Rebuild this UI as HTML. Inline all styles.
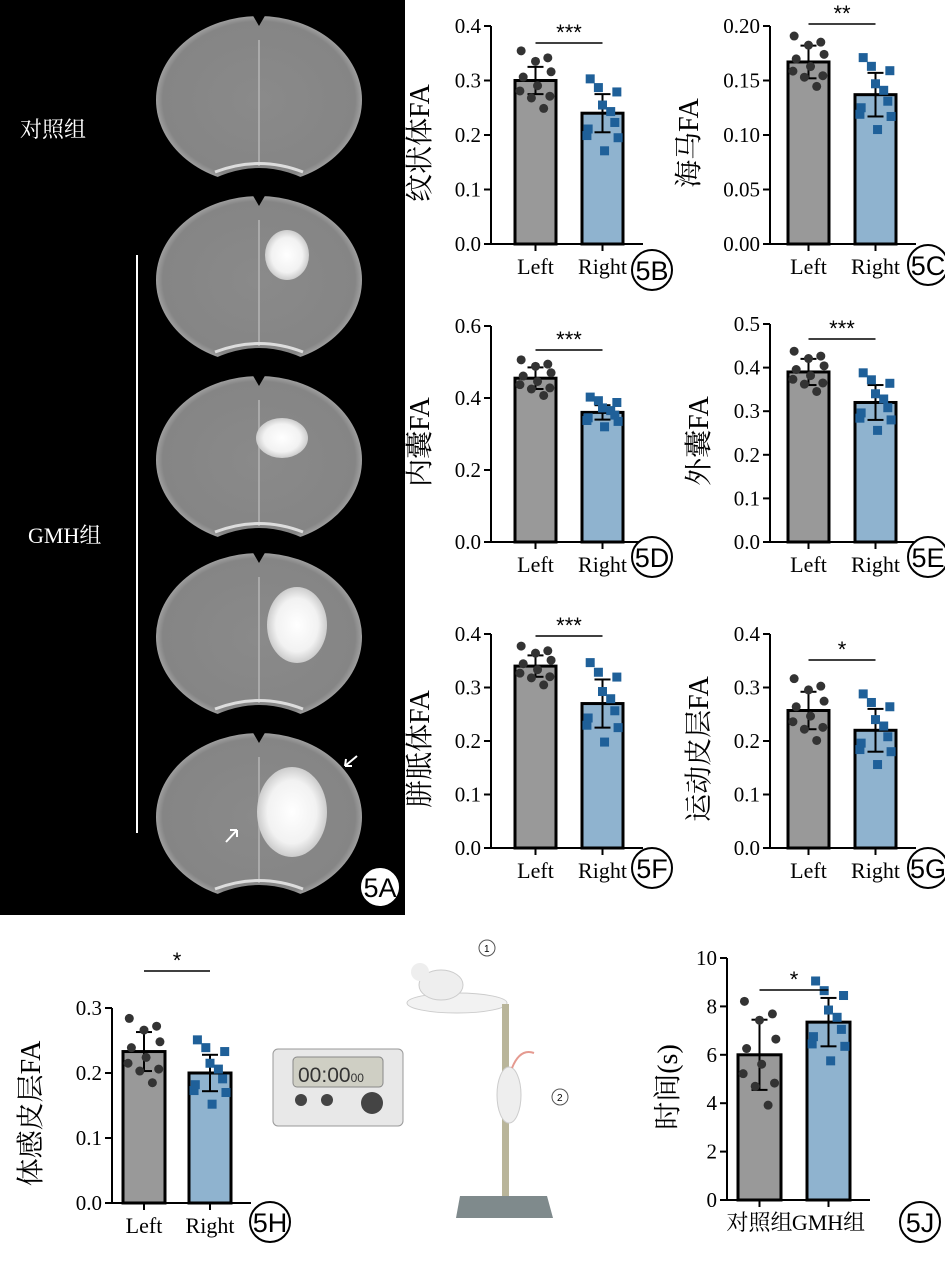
<!DOCTYPE html>
<html><head><meta charset="utf-8"><style>
html,body{margin:0;padding:0;background:#fff;width:945px;height:1263px;overflow:hidden}
svg{display:block}
</style></head><body>
<svg id="s" width="945" height="1263" xmlns="http://www.w3.org/2000/svg" font-family="'Liberation Serif','Noto Serif CJK SC',serif">
<defs>
<radialGradient id="bg" cx="50%" cy="50%" r="55%"><stop offset="0" stop-color="#8a8a8a"/><stop offset="0.85" stop-color="#858585"/><stop offset="0.93" stop-color="#a8a8a8"/><stop offset="1" stop-color="#3a3a3a"/></radialGradient>
<radialGradient id="les" cx="50%" cy="50%" r="50%"><stop offset="0" stop-color="#fff"/><stop offset="0.7" stop-color="#f2f2f2"/><stop offset="1" stop-color="#ccc"/></radialGradient>
</defs>
<rect x="0" y="0" width="405" height="915" fill="#000"/>
<g id="brains"></g>
<line x1="137" y1="255" x2="137" y2="833" stroke="#fff" stroke-width="2"/>
<text x="20" y="137" fill="#fff" font-size="22" font-family="'Liberation Serif','Noto Serif CJK SC',serif">对照组</text>
<text x="28" y="543" fill="#fff" font-size="22" font-family="'Liberation Serif','Noto Serif CJK SC',serif">GMH组</text>
<path d="M357 756 L345 766 M345 766 L352 766 M345 766 L346 759" stroke="#fff" stroke-width="2" fill="none"/>
<path d="M226 842 L237 830 M237 830 L230 830 M237 830 L237 837" stroke="#fff" stroke-width="2" fill="none"/>
<g id="charts"></g>
<!-- 5I illustration -->
<rect x="273" y="1049" width="130" height="77" rx="5" fill="#e8e8e8" stroke="#999"/>
<rect x="293" y="1057" width="90" height="30" rx="4" fill="#cfcfc4" stroke="#888"/>
<text x="298" y="1082" font-family="'Liberation Sans',sans-serif" font-size="21" fill="#333">00:00<tspan font-size="12">00</tspan></text>
<circle cx="301" cy="1100" r="6" fill="#444"/><circle cx="327" cy="1100" r="6" fill="#444"/><circle cx="372" cy="1103" r="11" fill="#444"/>
<ellipse cx="457" cy="1003" rx="50" ry="10" fill="#f2f2f2" stroke="#ccc"/>
<ellipse cx="441" cy="985" rx="22" ry="15" fill="#eee" stroke="#ccc"/>
<circle cx="420" cy="972" r="9" fill="#eee"/>
<circle cx="487" cy="948" r="8" fill="none" stroke="#555"/><text x="484" y="952" font-size="10" font-family="'Liberation Sans',sans-serif">1</text>
<circle cx="560" cy="1097" r="8" fill="none" stroke="#555"/><text x="557" y="1101" font-size="10" font-family="'Liberation Sans',sans-serif">2</text>
<rect x="502" y="1004" width="7" height="202" fill="#b9b59a"/>
<ellipse cx="509" cy="1095" rx="12" ry="28" fill="#eee" stroke="#ccc"/>
<path d="M512 1068 q8 -20 22 -15" stroke="#e59a90" stroke-width="2" fill="none"/>
<polygon points="460,1196 547,1196 553,1218 456,1218" fill="#7f8a8c"/>
</svg>
<script>
const NS="http://www.w3.org/2000/svg";
function el(t,a,p,txt){const e=document.createElementNS(NS,t);for(const k in a)e.setAttribute(k,a[k]);if(txt!==undefined)e.textContent=txt;(p||document.getElementById('charts')).appendChild(e);return e;}
const B=document.getElementById('brains');
const cys=[100,280,460,637,817];
cys.forEach((cy,i)=>{
 el('ellipse',{cx:259,cy:cy,rx:103,ry:84,fill:'url(#bg)'},B);
 el('path',{d:`M200 ${cy+86} Q259 ${cy+50} 318 ${cy+86} Z`,fill:'#000'},B);
 el('path',{d:`M252 ${cy-86} L259 ${cy-74} L266 ${cy-86} Z`,fill:'#000'},B);
 el('line',{x1:259,y1:cy-60,x2:259,y2:cy+66,stroke:'#aaa','stroke-width':2},B);
 el('path',{d:`M215 ${cy+72} Q259 ${cy+55} 303 ${cy+72}`,stroke:'#ddd','stroke-width':3,fill:'none'},B);
 if(i==1)el('ellipse',{cx:287,cy:cy-25,rx:22,ry:25,fill:'url(#les)'},B);
 if(i==2)el('ellipse',{cx:282,cy:cy-22,rx:26,ry:20,fill:'url(#les)'},B);
 if(i==3)el('ellipse',{cx:297,cy:cy-12,rx:30,ry:38,fill:'url(#les)'},B);
 if(i==4)el('ellipse',{cx:292,cy:cy-5,rx:35,ry:45,fill:'url(#les)'},B);
});
el('circle',{cx:380,cy:887,r:20,fill:'#fff',stroke:'#000','stroke-width':2},B);
el('text',{x:380,y:897,'text-anchor':'middle','font-size':27,'font-family':"'Liberation Sans',sans-serif"},B,'5A');

function rnd(seed){let s=seed;return()=>{s=(s*9301+49297)%233280;return s/233280;}}
function chart(o){
 const {ax,top,zero,max,step,dec,title,v1,v2,sd1,sd2,stars,lab,tag,bw,gap,pts1,pts2}=o;
 const sc=v=>zero-(v/max)*(zero-top);
 const x1=ax+(o.off||24), x2=x1+bw+gap;
 el('line',{x1:ax,y1:top,x2:ax,y2:zero+1,stroke:'#000','stroke-width':2});
 el('line',{x1:ax-1,y1:zero,x2:x2+bw+20,y2:zero,stroke:'#000','stroke-width':2});
 for(let v=0;v<=max+1e-9;v+=step){const y=sc(v);el('line',{x1:ax-7,y1:y,x2:ax,y2:y,stroke:'#000','stroke-width':2});
  el('text',{x:ax-10,y:y+7,'text-anchor':'end','font-size':21},null,v.toFixed(dec));}
 el('text',{transform:`translate(${ax-o.td},${(top+zero)/2+8}) rotate(-90)`,'text-anchor':'middle','font-size':28},null,title);
 el('rect',{x:x1,y:sc(v1),width:bw,height:zero-sc(v1),fill:'#999',stroke:'#000','stroke-width':3});
 el('rect',{x:x2,y:sc(v2),width:bw,height:zero-sc(v2),fill:'#8fb3cf',stroke:'#000','stroke-width':3});
 [[x1,v1,sd1],[x2,v2,sd2]].forEach(([x,v,sd])=>{const c=x+bw/2;
  el('line',{x1:c,y1:sc(v),x2:c,y2:sc(v+sd),stroke:'#000','stroke-width':2});
  el('line',{x1:c-8,y1:sc(v+sd),x2:c+8,y2:sc(v+sd),stroke:'#000','stroke-width':2});
  el('line',{x1:c,y1:sc(v),x2:c,y2:sc(v-sd),stroke:'#000','stroke-width':2});
  el('line',{x1:c-8,y1:sc(v-sd),x2:c+8,y2:sc(v-sd),stroke:'#000','stroke-width':2});
  el('line',{x1:c,y1:zero,x2:c,y2:zero+7,stroke:'#000','stroke-width':2});});
 const r=rnd(Math.round(v1*1000+v2*77));
 const jx=[-.35,0,.3,-.3,.35,-.1,.2,-.38,.38,.05];
 pts1.forEach((v,i)=>{el('circle',{cx:x1+bw/2+jx[i]*bw,cy:sc(v),r:4.5,fill:'#333'});});
 pts2.forEach((v,i)=>{const cx=x2+bw/2+jx[(i+3)%10]*bw;el('rect',{x:cx-4.5,y:sc(v)-4.5,width:9,height:9,fill:'#1f6099'});});
 const sy=o.sy;
 el('line',{x1:x1+bw/2,y1:sy,x2:x2+bw/2,y2:sy,stroke:'#000','stroke-width':1.5});
 el('text',{x:(x1+x2+bw)/2,y:sy-3,'text-anchor':'middle','font-size':22,'font-family':"'Liberation Sans',sans-serif"},null,stars);
 el('text',{x:x1+bw/2,y:zero+30,'text-anchor':'middle','font-size':22},null,lab[0]);
 el('text',{x:x2+bw/2,y:zero+30,'text-anchor':'middle','font-size':22},null,lab[1]);
 el('circle',{cx:tag[0],cy:tag[1],r:20,fill:'#fff',stroke:'#000','stroke-width':2});
 el('text',{x:tag[0],y:tag[1]+10,'text-anchor':'middle','font-size':27,'font-family':"'Liberation Sans',sans-serif"},null,tag[2]);
}
const LR=['Left','Right'];
const spread=(m,s)=>[m+s*1.7,m+s*1.1,m+s*1.3,m+s*.2,m-s*.9,m-s*1.0,m-s*1.6,m-s*.6,m+s*.5,m-s*.3];
chart({ax:491,top:26,zero:244,max:0.4,step:0.1,dec:1,title:'纹状体FA',v1:.30,v2:.24,sd1:.025,sd2:.035,stars:'***',lab:LR,tag:[652,270,'5B'],bw:41,gap:26,sy:43,td:62,pts1:spread(.30,.032),pts2:spread(.235,.04),off:24});
chart({ax:770,top:26,zero:244,max:0.20,step:0.05,dec:2,title:'海马FA',v1:.167,v2:.137,sd1:.015,sd2:.02,stars:'**',lab:LR,tag:[928,265,'5C'],bw:41,gap:26,sy:24,td:72,pts1:spread(.167,.014),pts2:spread(.137,.02),off:18});
chart({ax:491,top:326,zero:542,max:0.6,step:0.2,dec:1,title:'内囊FA',v1:.455,v2:.36,sd1:.03,sd2:.02,stars:'***',lab:LR,tag:[652,557,'5D'],bw:41,gap:26,sy:350,td:62,pts1:spread(.455,.03),pts2:spread(.36,.025),off:24});
chart({ax:770,top:324,zero:542,max:0.5,step:0.1,dec:1,title:'外囊FA',v1:.39,v2:.32,sd1:.03,sd2:.04,stars:'***',lab:LR,tag:[928,557,'5E'],bw:41,gap:26,sy:339,td:62,pts1:spread(.39,.028),pts2:spread(.32,.04),off:18});
chart({ax:491,top:634,zero:848,max:0.4,step:0.1,dec:1,title:'胼胝体FA',v1:.34,v2:.27,sd1:.02,sd2:.045,stars:'***',lab:LR,tag:[652,868,'5F'],bw:41,gap:26,sy:636,td:62,pts1:spread(.34,.022),pts2:spread(.27,.045),off:24});
chart({ax:770,top:634,zero:848,max:0.4,step:0.1,dec:1,title:'运动皮层FA',v1:.257,v2:.22,sd1:.035,sd2:.04,stars:'*',lab:LR,tag:[928,868,'5G'],bw:41,gap:26,sy:660,td:62,pts1:spread(.257,.035),pts2:spread(.22,.04),off:18});
chart({ax:112,top:1008,zero:1203,max:0.3,step:0.1,dec:1,title:'体感皮层FA',v1:.233,v2:.20,sd1:.03,sd2:.028,stars:'*',lab:LR,tag:[270,1222,'5H'],bw:42,gap:24,sy:971,td:72,pts1:spread(.233,.03),pts2:spread(.20,.03),off:11});
chart({ax:727,top:958,zero:1200,max:10,step:2,dec:0,title:'时间(s)',v1:6.0,v2:7.35,sd1:1.45,sd2:1.0,stars:'*',lab:['对照组','GMH组'],tag:[920,1222,'5J'],bw:43,gap:26,sy:990,td:50,pts1:spread(6.0,1.3),pts2:spread(7.35,1.0),off:11});
</script>
</body></html>
